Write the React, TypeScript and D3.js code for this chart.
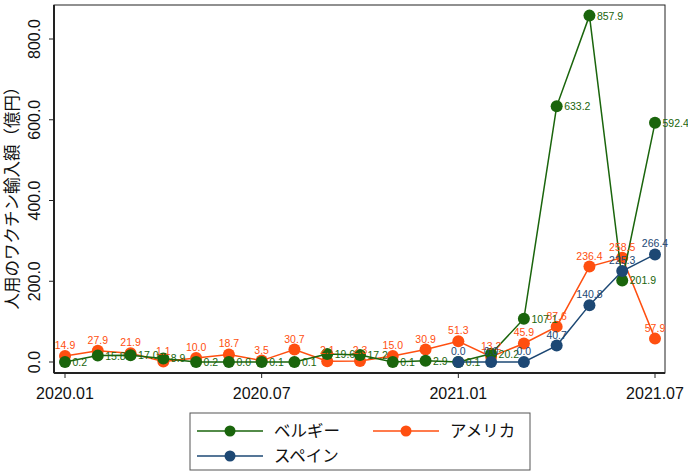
import React from "react";
import * as d3 from "d3";

const months = [
  "2020.01","2020.02","2020.03","2020.04","2020.05","2020.06","2020.07","2020.08","2020.09","2020.10","2020.11","2020.12",
  "2021.01","2021.02","2021.03","2021.04","2021.05","2021.06","2021.07",
];
const belgium = [0.2, 15.8, 17.0, 8.9, 0.2, 0.0, 0.1, 0.1, 19.6, 17.2, 0.1, 2.9, 0.1, 20.2, 107.1, 633.2, 857.9, 201.9, 592.4];
const america = [14.9, 27.9, 21.9, 1.1, 10.0, 18.7, 3.5, 30.7, 2.1, 2.3, 15.0, 30.9, 51.3, 13.2, 45.9, 87.6, 236.4, 258.5, 57.9];
const spainMonths = ["2021.01","2021.02","2021.03","2021.04","2021.05","2021.06","2021.07"];
const spain = [0.0, 0.0, 0.0, 40.7, 140.8, 225.3, 266.4];
const xTicks = ["2020.01", "2020.07", "2021.01", "2021.07"];
const yTicks = [0, 200, 400, 600, 800];
const seriesNames = ["ベルギー", "アメリカ", "スペイン"];
const yTitle = "人用のワクチン輸入額（億円）";

const GREEN = "#1a650c";
const ORANGE = "#ff4f10";
const NAVY = "#1d4874";
const FONT = "Liberation Sans, Arial, Helvetica, sans-serif";
const JFONT = "'Noto Sans CJK JP', sans-serif";

export default function App() {
  const W = 688, H = 474;
  const left = 54, right = 665, top = 5, bottom = 373;
  const x = d3.scalePoint<string>().domain(months).range([65, 655]);
  const y = d3.scaleLinear().domain([0, 800]).range([362, 39]);

  const line = d3.line<[string, number]>().x((d) => x(d[0])!).y((d) => y(d[1]));

  const bData: [string, number][] = months.map((m, i) => [m, belgium[i]]);
  const aData: [string, number][] = months.map((m, i) => [m, america[i]]);
  const sData: [string, number][] = spainMonths.map((m, i) => [m, spain[i]]);

  const series = [
    { data: aData, color: ORANGE, pos: "top" },
    { data: bData, color: GREEN, pos: "right" },
    { data: sData, color: NAVY, pos: "top" },
  ];

  return (
    <svg width={W} height={H} style={{ position: "absolute", left: 0, top: 0, background: "#fff" }}>
      <rect x={0} y={0} width={W} height={H} fill="#fff" />
      {/* frame */}
      <rect x={left} y={top} width={right - left} height={bottom - top} fill="none" stroke="#222" strokeWidth={1} />
      <line x1={left} x2={left} y1={top} y2={bottom} stroke="#222" strokeWidth={2} />
      <line x1={left} x2={right} y1={bottom} y2={bottom} stroke="#222" strokeWidth={2} />
      {/* y ticks */}
      {yTicks.map((t) => (
        <g key={t}>
          <line x1={left - 5} x2={left} y1={y(t)} y2={y(t)} stroke="#222" strokeWidth={1} />
          <text
            transform={`translate(39.5,${y(t)}) rotate(-90)`}
            textAnchor="middle"
            fontFamily={FONT}
            fontSize={16}
            fill="#111"
          >
            {t.toFixed(1)}
          </text>
        </g>
      ))}
      {/* x ticks */}
      {xTicks.map((t) => (
        <g key={t}>
          <line x1={x(t)} x2={x(t)} y1={bottom} y2={bottom + 5} stroke="#222" strokeWidth={1} />
          <text x={x(t)} y={bottom + 26} textAnchor="middle" fontFamily={FONT} fontSize={16} fill="#111">
            {t}
          </text>
        </g>
      ))}
      {/* y title */}
      <text
        transform={`translate(17.5,${(top + bottom) / 2 + 5}) rotate(-90)`}
        textAnchor="middle"
        fontFamily={JFONT}
        fontSize={16.5}
        fill="#111"
      >
        {yTitle}
      </text>
      {/* series */}
      {series.map((s, si) => (
        <g key={si}>
          <path d={line(s.data) || ""} fill="none" stroke={s.color} strokeWidth={1.5} />
          {s.data.map((d, i) => (
            <circle key={i} cx={x(d[0])} cy={y(d[1])} r={6} fill={s.color} />
          ))}
        </g>
      ))}
      {series.map((s, si) => (
        <g key={"l" + si}>
          {s.data.map((d, i) =>
            s.pos === "top" ? (
              <text key={i} x={x(d[0])} y={y(d[1]) - 7} textAnchor="middle" fontFamily={FONT} fontSize={10.5} fill={s.color}>
                {d[1].toFixed(1)}
              </text>
            ) : (
              <text key={i} x={x(d[0])! + 7.5} y={y(d[1]) + 4} textAnchor="start" fontFamily={FONT} fontSize={10.5} fill={s.color}>
                {d[1].toFixed(1)}
              </text>
            )
          )}
        </g>
      ))}
      {/* legend */}
      <rect x={190} y={413} width={340} height={57} fill="#fff" stroke="#555" strokeWidth={1} />
      {[
        { name: seriesNames[0], color: GREEN, lx: 197, ly: 431 },
        { name: seriesNames[1], color: ORANGE, lx: 373, ly: 431 },
        { name: seriesNames[2], color: NAVY, lx: 197, ly: 456 },
      ].map((l) => (
        <g key={l.name}>
          <line x1={l.lx} x2={l.lx + 66} y1={l.ly} y2={l.ly} stroke={l.color} strokeWidth={1.3} />
          <circle cx={l.lx + 33} cy={l.ly} r={5.5} fill={l.color} />
          <text x={l.lx + 77} y={l.ly + 6} fontFamily={JFONT} fontSize={16.5} fill="#111">
            {l.name}
          </text>
        </g>
      ))}
    </svg>
  );
}
